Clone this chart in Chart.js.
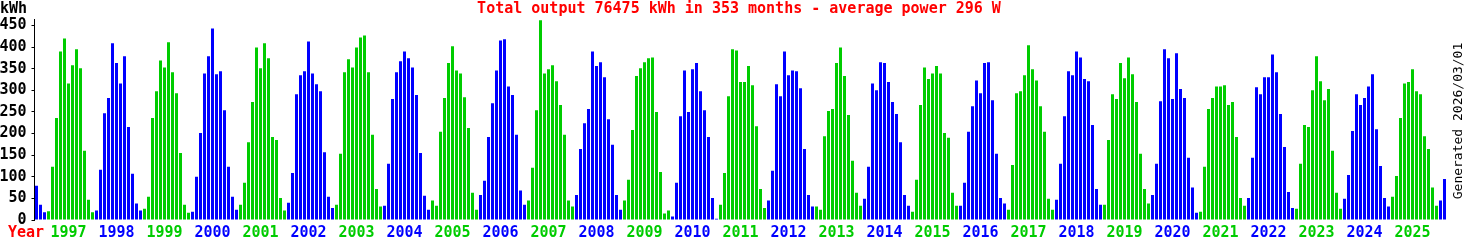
<!DOCTYPE html>
<html>
<head>
<meta charset="utf-8">
<style>
  html, body { margin: 0; padding: 0; background: #ffffff; overflow: hidden; }
  canvas { display: block; }
</style>
<script src="https://cdn.jsdelivr.net/npm/chart.js@4/dist/chart.umd.min.js"></script>
</head>
<body>
<canvas id="chart" width="1464" height="240"></canvas>
<script>
// ---- data ----
const firstYear = 1996;
const firstMonth = 10; // October 1996
const lastGenerated = 'Generated 2026/03/01';
const titleText = 'Total output 76475 kWh in 353 months - average power 296 W';
const unitText = 'kWh';
const yearWord = 'Year';

// monthly output in kWh, Oct 1996 .. Feb 2026 (353 months)
const kwh = [
  79, 35, 18,                                                   // 1996
  20, 123, 236, 390, 420, 316, 358, 395, 351, 160, 47, 18,      // 1997
  22, 116, 247, 282, 409, 363, 316, 379, 215, 107, 38, 22,      // 1998
  26, 54, 236, 298, 369, 353, 411, 342, 293, 155, 35, 17,       // 1999
  19, 100, 201, 339, 379, 443, 337, 344, 254, 123, 54, 24,      // 2000
  35, 86, 180, 273, 399, 351, 409, 374, 192, 185, 51, 22,       // 2001
  40, 109, 291, 335, 344, 413, 339, 314, 298, 157, 54, 28,      // 2002
  35, 153, 342, 372, 353, 399, 422, 427, 342, 197, 72, 31,      // 2003
  33, 130, 280, 342, 367, 390, 374, 353, 289, 155, 56, 24,      // 2004
  45, 33, 204, 282, 363, 402, 346, 339, 284, 213, 63, 24,       // 2005
  58, 91, 192, 270, 346, 415, 418, 309, 289, 197, 68, 35,       // 2006
  45, 121, 254, 462, 339, 349, 358, 321, 266, 197, 45, 31,      // 2007
  58, 164, 224, 257, 390, 356, 365, 330, 233, 174, 58, 24,      // 2008
  45, 93, 208, 333, 351, 365, 374, 376, 250, 111, 15, 22,       // 2009
  8, 86, 240, 346, 250, 349, 363, 298, 254, 192, 51, 3,         // 2010
  35, 109, 286, 395, 392, 319, 319, 356, 312, 217, 72, 28,      // 2011
  45, 114, 314, 286, 390, 335, 346, 344, 305, 164, 58, 31,      // 2012
  31, 24, 194, 252, 257, 363, 399, 333, 243, 137, 63, 33,       // 2013
  49, 123, 316, 300, 365, 363, 319, 273, 245, 180, 58, 33,      // 2014
  19, 93, 266, 353, 326, 339, 356, 339, 201, 190, 63, 33,       // 2015
  33, 86, 204, 263, 323, 293, 363, 365, 277, 153, 51, 38,       // 2016
  24, 127, 293, 298, 335, 404, 349, 323, 263, 204, 49, 24,      // 2017
  47, 130, 240, 344, 335, 390, 376, 326, 321, 220, 72, 35,      // 2018
  35, 185, 291, 280, 363, 328, 376, 337, 273, 153, 72, 38,      // 2019
  58, 130, 275, 395, 374, 280, 386, 303, 282, 144, 75, 17,      // 2020
  19, 123, 257, 282, 309, 309, 312, 266, 273, 192, 51, 33,      // 2021
  51, 144, 307, 291, 330, 330, 383, 342, 245, 169, 65, 28,      // 2022
  26, 130, 220, 215, 300, 379, 321, 277, 303, 160, 63, 26,      // 2023
  49, 104, 206, 291, 266, 282, 309, 337, 210, 125, 51, 31,      // 2024
  54, 102, 236, 316, 319, 349, 298, 291, 194, 164, 75, 33,      // 2025
  45, 95                                                        // 2026
];

// year tick labels shown under the bars
const yearTicks = ['1997','1998','1999','2000','2001','2002','2003','2004','2005','2006',
  '2007','2008','2009','2010','2011','2012','2013','2014','2015','2016',
  '2017','2018','2019','2020','2021','2022','2023','2024','2025'];

// y axis
const yMax = 465;
const yStep = 50;

// ---- categories: one per month ----
const months = [];
for (let i = 0; i < kwh.length; i++) {
  const m0 = firstMonth - 1 + i;
  const y = firstYear + Math.floor(m0 / 12);
  const m = (m0 % 12) + 1;
  months.push(y + '-' + String(m).padStart(2, '0'));
}

const GREEN = '#00cc00';
const BLUE = '#0000ff';
const RED = '#ff0000';
const MONO = '"DejaVu Sans Mono", "Liberation Mono", monospace';

const yearOf = (label) => parseInt(label.slice(0, 4), 10);
const monthOf = (label) => parseInt(label.slice(5, 7), 10);
const colorOfYear = (y) => (y % 2 === 0 ? BLUE : GREEN);

const extraText = {
  id: 'extraText',
  afterDraw(chart) {
    const ctx = chart.ctx;
    const area = chart.chartArea;
    ctx.save();
    ctx.textBaseline = 'alphabetic';
    // unit label
    ctx.font = 'bold 15px ' + MONO;
    ctx.fillStyle = '#000000';
    ctx.textAlign = 'left';
    ctx.fillText(unitText, 0, 13);
    // title
    ctx.fillStyle = RED;
    ctx.textAlign = 'center';
    ctx.fillText(titleText, (area.left + area.right) / 2 - 1.5, 13);
    // "Year" word at the start of the x label row
    ctx.textAlign = 'left';
    ctx.fillText(yearWord, 8, 237);
    // generated date, vertical on the right
    ctx.font = '13px ' + MONO;
    ctx.fillStyle = '#000000';
    ctx.translate(1461.5, (area.top + area.bottom) / 2 + 1.5);
    ctx.rotate(-Math.PI / 2);
    ctx.textAlign = 'center';
    ctx.fillText(lastGenerated, 0, 0);
    ctx.restore();
  }
};

new Chart(document.getElementById('chart').getContext('2d'), {
  type: 'bar',
  data: {
    labels: months,
    datasets: [{
      data: kwh,
      backgroundColor: months.map(l => colorOfYear(yearOf(l))),
      borderWidth: 0,
      barPercentage: 0.75,
      categoryPercentage: 1.0
    }]
  },
  options: {
    responsive: false,
    animation: false,
    devicePixelRatio: 1,
    layout: { padding: { top: 19, right: 17.5, bottom: 0, left: 0 } },
    plugins: {
      legend: { display: false },
      tooltip: { enabled: false },
      title: { display: false }
    },
    scales: {
      x: {
        offset: true,
        grid: { display: false, drawTicks: false, tickLength: 0 },
        border: { display: false },
        ticks: {
          autoSkip: false,
          maxRotation: 0,
          minRotation: 0,
          padding: 4,
          font: { family: MONO, size: 15, weight: 'bold' },
          color: (c) => colorOfYear(yearOf(months[c.index] || months[0])),
          callback: (value, index) => {
            const l = months[index];
            const y = String(yearOf(l));
            return (monthOf(l) === 6 && yearTicks.includes(y)) ? y : '';
          }
        },
        afterFit: (s) => { s.height = 20; }
      },
      y: {
        min: 0,
        max: yMax,
        grid: { drawOnChartArea: false, drawTicks: true, tickLength: 3, color: '#000000' },
        border: { display: true, color: '#000000', width: 1 },
        ticks: {
          stepSize: yStep,
          includeBounds: false,
          padding: 5,
          color: '#000000',
          font: { family: MONO, size: 15, weight: 'bold' }
        },
        afterFit: (s) => { s.width = 34.5; }
      }
    }
  },
  plugins: [extraText]
});
</script>
</body>
</html>
